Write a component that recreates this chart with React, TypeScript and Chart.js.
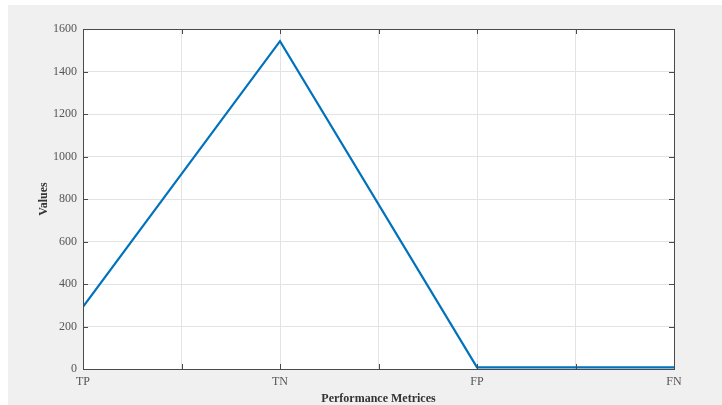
import React, { useEffect, useRef } from "react";
import { Chart, registerables } from "chart.js";

Chart.register(...registerables);

// Confusion-matrix counts
const metrics = ["TP", "TN", "FP", "FN"];
const counts = [293, 1543, 8, 8];
const yTicks = [0, 200, 400, 600, 800, 1000, 1200, 1400, 1600];

const serif = "'Liberation Serif', 'Times New Roman', serif";

// White plot area, box outline and inward tick marks
const boxAxes = {
  id: "boxAxes",
  beforeDraw(chart: any) {
    const { ctx, chartArea: a } = chart;
    ctx.save();
    ctx.fillStyle = "#ffffff";
    ctx.fillRect(a.left, a.top, a.right - a.left, a.bottom - a.top);
    ctx.restore();
  },
  afterDraw(chart: any) {
    const { ctx, chartArea: a, scales } = chart;
    const len = 5;
    ctx.save();
    ctx.strokeStyle = "#4a4a4a";
    ctx.lineWidth = 1;
    ctx.beginPath();
    scales.x.ticks.forEach((t: any) => {
      const px = Math.round(scales.x.getPixelForValue(t.value)) + 0.5;
      ctx.moveTo(px, a.bottom);
      ctx.lineTo(px, a.bottom - len);
      ctx.moveTo(px, a.top);
      ctx.lineTo(px, a.top + len);
    });
    scales.y.ticks.forEach((t: any) => {
      const py = Math.round(scales.y.getPixelForValue(t.value)) + 0.5;
      ctx.moveTo(a.left, py);
      ctx.lineTo(a.left + len, py);
      ctx.moveTo(a.right, py);
      ctx.lineTo(a.right - len, py);
    });
    ctx.stroke();
    ctx.strokeRect(
      Math.round(a.left) + 0.5,
      Math.round(a.top) + 0.5,
      Math.round(a.right - a.left),
      Math.round(a.bottom - a.top)
    );
    ctx.restore();
  },
};

export default function App() {
  const ref = useRef<HTMLCanvasElement>(null);

  useEffect(() => {
    if (!ref.current) return;
    const chart = new Chart(ref.current, {
      type: "line",
      data: {
        datasets: [
          {
            data: metrics.map((_, i) => ({ x: i + 1, y: counts[i] })),
            borderColor: "#0072BD",
            borderWidth: 2.2,
            pointRadius: 0,
            tension: 0,
          },
        ],
      },
      options: {
        animation: false,
        responsive: false,
        events: [],
        layout: { padding: { top: 24, right: 48, left: 0, bottom: 0 } },
        plugins: { legend: { display: false }, tooltip: { enabled: false } },
        scales: {
          x: {
            type: "linear",
            min: 1,
            max: metrics.length,
            afterFit: (s: any) => {
              s.height = 36;
            },
            afterBuildTicks: (s: any) => {
              const t = [];
              for (let v = 1; v <= metrics.length + 1e-9; v += 0.5) t.push({ value: v });
              s.ticks = t;
            },
            ticks: {
              autoSkip: false,
              maxRotation: 0,
              padding: 6,
              color: "#555555",
              font: { family: serif, size: 12 },
              callback: (v: any) =>
                Number.isInteger(v) ? metrics[(v as number) - 1] : "",
            },
            grid: { color: "#e3e3e3", drawTicks: false, lineWidth: 1 },
            border: { display: false },
            title: {
              display: true,
              text: "Performance Metrices",
              color: "#333333",
              font: { family: serif, size: 12, weight: "bold", lineHeight: 1 },
              padding: { top: 0, bottom: 0 },
            },
          },
          y: {
            type: "linear",
            min: yTicks[0],
            max: yTicks[yTicks.length - 1],
            afterFit: (s: any) => {
              s.width = 75;
            },
            afterBuildTicks: (s: any) => {
              s.ticks = yTicks.map((v) => ({ value: v }));
            },
            ticks: {
              padding: 6,
              color: "#555555",
              font: { family: serif, size: 12 },
              callback: (v: any) => String(v),
            },
            grid: { color: "#e3e3e3", drawTicks: false, lineWidth: 1 },
            border: { display: false },
            title: {
              display: true,
              text: "Values",
              color: "#333333",
              font: { family: serif, size: 12, weight: "bold", lineHeight: 1 },
              padding: { top: 30, bottom: 0 },
            },
          },
        },
      },
      plugins: [boxAxes],
    });
    return () => chart.destroy();
  }, []);

  return (
    <div
      style={{
        position: "absolute",
        left: 8,
        top: 5,
        width: 714,
        height: 400,
        background: "#f0f0f0",
      }}
    >
      <canvas ref={ref} width={714} height={400} style={{ display: "block" }} />
    </div>
  );
}
